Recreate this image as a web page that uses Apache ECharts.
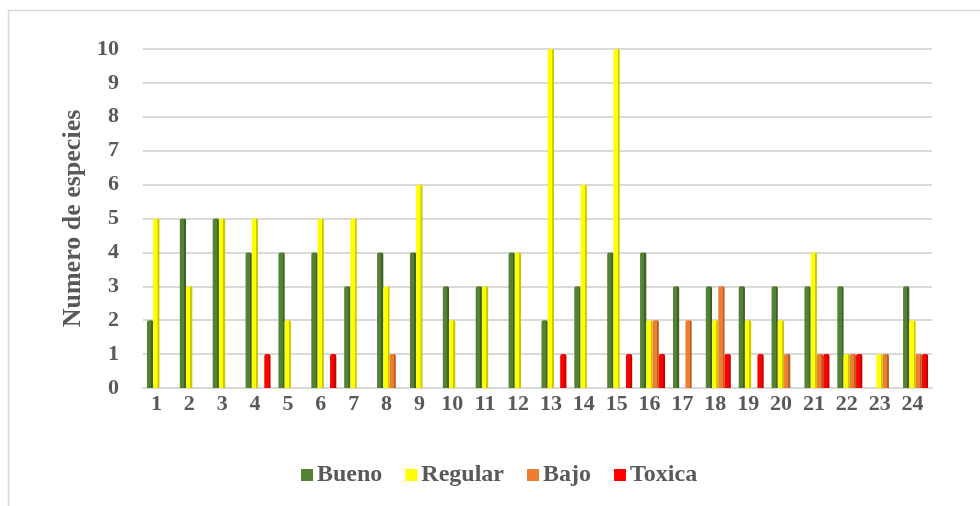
<!DOCTYPE html>
<html>
<head>
<meta charset="utf-8">
<script src="https://cdn.jsdelivr.net/npm/echarts@6/dist/echarts.min.js"></script>
<style>
  html, body { margin: 0; padding: 0; background: #ffffff; }
  #chart { width: 980px; height: 506px; }
</style>
</head>
<body>
<div id="chart"></div>
<script>
// Species counts per site, split by quality class
const categories = ['1','2','3','4','5','6','7','8','9','10','11','12','13','14','15','16','17','18','19','20','21','22','23','24'];
const bueno   = [2,5,5,4,4,4,3,4,4,3,3,4,2,3,4,4,3,3,3,3,3,3,0,3];
const regular = [5,3,5,5,2,5,5,3,6,2,3,4,10,6,10,2,0,2,2,2,4,1,1,2];
const bajo    = [0,0,0,0,0,0,0,1,0,0,0,0,0,0,0,2,2,3,0,1,1,1,1,1];
const toxica  = [0,0,0,1,0,1,0,0,0,0,0,0,1,0,1,1,0,1,1,0,1,1,0,1];

const seriesNames = ['Bueno', 'Regular', 'Bajo', 'Toxica'];
const seriesData = [bueno, regular, bajo, toxica];
const baseColors = ['#548235', '#ffff00', '#ed7d31', '#ff0000'];
const sideColors = ['#3e6127', '#c9c900', '#b85f22', '#c80000'];

const textColor = '#595959';
const serif = '"Liberation Serif", "Times New Roman", serif';

// Front face plus a darker right-hand side to give each bar some depth
function barFill(i) {
  return new echarts.graphic.LinearGradient(0, 0, 1, 0, [
    { offset: 0, color: baseColors[i] },
    { offset: 0.68, color: baseColors[i] },
    { offset: 0.7, color: sideColors[i] },
    { offset: 1, color: sideColors[i] }
  ]);
}

const chart = echarts.init(document.getElementById('chart'));
chart.setOption({
  backgroundColor: '#ffffff',
  animation: false,
  graphic: [{
    type: 'rect',
    shape: { x: 8.5, y: 10.5, width: 1000, height: 600 },
    style: { fill: 'none', stroke: '#d9d9d9', lineWidth: 1.5 },
    silent: true
  }],
  grid: { left: 143, right: 48, top: 49, bottom: 118 },
  legend: {
    data: seriesNames.map((n, i) => ({ name: n, itemStyle: { color: baseColors[i] } })),
    bottom: 14,
    left: 296,
    icon: 'rect',
    itemWidth: 12,
    itemHeight: 12,
    itemGap: 23,
    textStyle: { fontFamily: serif, fontWeight: 'bold', fontSize: 24, color: textColor, padding: [0, 0, 0, -1] }
  },
  xAxis: {
    type: 'category',
    data: categories,
    axisLine: { show: true, lineStyle: { color: '#d9d9d9', width: 2 } },
    axisTick: { show: false },
    axisLabel: { fontFamily: serif, fontWeight: 'bold', fontSize: 22, color: textColor, margin: 5, padding: [0, 6, 0, 0] }
  },
  yAxis: {
    type: 'value',
    min: 0,
    max: 10,
    interval: 1,
    name: 'Numero de especies',
    nameLocation: 'middle',
    nameGap: 57,
    nameTextStyle: { fontFamily: serif, fontWeight: 'bold', fontSize: 26, color: textColor },
    axisLine: { show: false },
    axisTick: { show: false },
    splitLine: { lineStyle: { color: '#d9d9d9', width: 2 } },
    axisLabel: { fontFamily: serif, fontWeight: 'bold', fontSize: 22, color: textColor, margin: 24 }
  },
  series: seriesNames.map((name, i) => ({
    name: name,
    type: 'bar',
    data: seriesData[i],
    barGap: '0%',
    barCategoryGap: '24%',
    itemStyle: { color: barFill(i), borderRadius: [2, 2, 0, 0] }
  }))
});
</script>
</body>
</html>
